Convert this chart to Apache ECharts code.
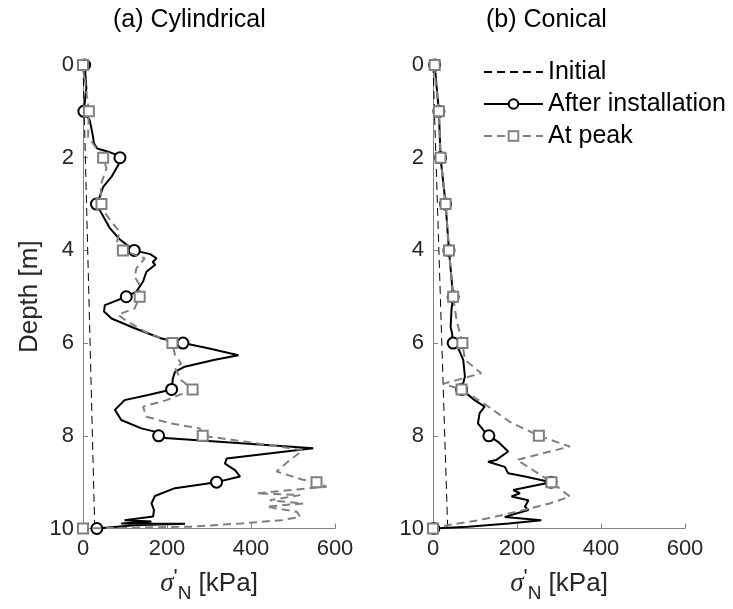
<!DOCTYPE html>
<html><head><meta charset="utf-8">
<script src="https://cdn.jsdelivr.net/npm/echarts@6/dist/echarts.min.js"></script>
<style>html,body{margin:0;padding:0;background:#fff}#c{width:733px;height:609px}</style>
</head><body><div id="c"></div>
<script>
// ---- data (depth [m], stress [kPa]) ----
const depthTicks = [0, 2, 4, 6, 8, 10];
const stressTicks = [0, 200, 400, 600];
const panelTitles = ['(a) Cylindrical', '(b) Conical'];
const seriesNames = ['Initial', 'After installation', 'At peak'];
const markerDepths = [0, 1, 2, 3, 4, 5, 6, 7, 8, 9, 10];

// (a) Cylindrical
const cylInitial = [[0, 0], [10, 28]];
const cylInstall = [[0,4],[0.5,8],[1,2],[1.19,16],[1.55,24],[1.69,26],[1.8,34],[1.87,60],[1.94,80],[2,88],[2.16,84],[2.41,68],[2.63,48],[2.84,40],[3,32],[3.2,44],[3.52,64],[3.76,87],[4,122],[4.08,160],[4.17,175],[4.25,166],[4.31,172],[4.46,151],[4.67,143],[4.89,127],[5,103],[5.18,52],[5.32,50],[5.47,68],[5.68,123],[5.9,187],[6,238],[6.11,298],[6.26,370],[6.36,314],[6.51,242],[6.62,219],[6.76,214],[7,211],[7.12,155],[7.23,99],[7.44,76],[7.66,91],[7.84,139],[7.91,171],[8,180],[8.05,195],[8.27,548],[8.49,342],[8.6,338],[8.74,362],[8.88,374],[9,318],[9.13,219],[9.3,171],[9.46,163],[9.6,169],[9.74,167],[9.82,99],[9.85,163],[9.89,91],[9.9,243],[9.93,123],[10,32]];
const cylInstallMarks = [4, 2, 88, 32, 122, 103, 238, 211, 180, 318, 33];
const cylPeak = [[0,0],[1,14],[1.55,12],[2,48],[2.23,56],[2.59,42],[3,44],[3.24,56],[3.6,87],[3.85,80],[4,95],[4.17,147],[4.39,127],[4.57,123],[4.75,135],[5,135],[5.25,123],[5.39,83],[5.54,107],[5.75,147],[5.84,171],[6,213],[6.26,219],[6.44,234],[6.54,219],[6.8,234],[7,261],[7.23,199],[7.37,143],[7.59,151],[7.73,207],[7.84,278],[8,285],[8.09,358],[8.31,524],[8.52,493],[8.77,461],[8.95,524],[9,556],[9.1,580],[9.24,413],[9.28,517],[9.39,445],[9.46,524],[9.53,437],[9.64,509],[9.75,517],[9.82,473],[9.89,378],[9.96,258],[10,0]];
const cylPeakMarks = [0, 14, 48, 44, 95, 135, 213, 261, 285, 556, 0];

// (b) Conical
const conInitial = [[0, 0], [10, 35]];
const conInstall = [[0,4],[1,14],[2,18],[3,30],[4,38],[5,48],[5.28,44],[5.65,42],[5.82,46],[6,44],[6.11,60],[6.36,72],[6.72,76],[7,68],[7.23,99],[7.37,123],[7.51,111],[7.73,107],[7.91,123],[8,133],[8.13,155],[8.34,179],[8.52,151],[8.56,131],[8.67,171],[8.81,179],[8.88,219],[9,281],[9.17,191],[9.24,207],[9.31,187],[9.39,227],[9.53,219],[9.6,227],[9.75,171],[9.82,258],[9.89,181],[9.96,83],[10,2]];
const conInstallMarks = [4, 14, 18, 30, 38, 48, 48, 68, 133, 281, 2];
const conPeak = [[0,2],[1,14],[2,18],[3,30],[4,38],[5,48],[5.5,56],[6,70],[6.36,76],[6.65,115],[6.88,24],[7,68],[7.34,127],[7.7,183],[8,252],[8.23,326],[8.52,200],[8.81,250],[9,282],[9.31,326],[9.46,278],[9.64,199],[9.82,111],[9.92,40],[10,0]];
const conPeakMarks = [4, 14, 18, 30, 38, 48, 70, 68, 252, 282, 0];

// ---- chart ----
const FONT = 'Liberation Sans, Arial, sans-serif';
const AXC = '#808080';
const TXT = '#262626';
const toXY = arr => arr.map(p => [p[1], p[0]]);
const marks = vals => vals.map((v, i) => [v, markerDepths[i]]);

const grids = [
  { left: 83, top: 65, width: 252, height: 463.5 },
  { left: 433, top: 65, width: 252, height: 463.5 }
];
const xName = '{s|σ}{p|\'}{n|N}{t| [kPa]}';
const xAxes = [0, 1].map(i => ({
  type: 'value', gridIndex: i, position: 'bottom',
  min: stressTicks[0], max: stressTicks[stressTicks.length - 1],
  interval: stressTicks[1] - stressTicks[0],
  axisLine: { show: true, onZero: false, lineStyle: { color: AXC, width: 1 } },
  axisTick: { show: true, inside: true, length: 5, lineStyle: { color: AXC } },
  axisLabel: { color: TXT, fontSize: 22, fontFamily: FONT, margin: 9 },
  splitLine: { show: false },
  name: xName, nameLocation: 'middle', nameGap: 36,
  nameTextStyle: {
    color: TXT, fontFamily: FONT,
    rich: {
      s: { fontFamily: 'Liberation Serif', fontStyle: 'italic', fontSize: 27, color: TXT, lineHeight: 30 },
      p: { fontFamily: FONT, fontSize: 22, color: TXT, lineHeight: 30, padding: [0, 0, 12, 0] },
      n: { fontFamily: FONT, fontSize: 19, color: TXT, lineHeight: 30, padding: [20, 0, 0, 0] },
      t: { fontFamily: FONT, fontSize: 26, color: TXT, lineHeight: 30 }
    }
  }
}));
const yAxes = [0, 1].map(i => ({
  type: 'value', gridIndex: i, inverse: true, position: 'left',
  min: depthTicks[0], max: depthTicks[depthTicks.length - 1],
  interval: depthTicks[1] - depthTicks[0],
  axisLine: { show: true, onZero: false, lineStyle: { color: AXC, width: 1 } },
  axisTick: { show: true, inside: true, length: 5, lineStyle: { color: AXC } },
  axisLabel: { color: TXT, fontSize: 22, fontFamily: FONT, margin: 9 },
  splitLine: { show: false },
  name: i === 0 ? 'Depth [m]' : '', nameLocation: 'middle', nameGap: 40,
  nameTextStyle: { color: TXT, fontSize: 26, fontFamily: FONT }
}));

function panelSeries(i, initial, install, installMarks, peak, peakMarks) {
  return [
    { name: seriesNames[0], type: 'line', xAxisIndex: i, yAxisIndex: i, data: toXY(initial),
      symbol: 'none', lineStyle: { color: '#000', width: 1, type: [8, 5] },
      itemStyle: { color: 'rgba(0,0,0,0)', borderWidth: 0 },
      silent: true, animation: false, z: 2 },
    { name: seriesNames[1], type: 'line', xAxisIndex: i, yAxisIndex: i, data: toXY(install),
      symbol: 'circle', symbolSize: 10, showSymbol: false,
      lineStyle: { color: '#000', width: 2 },
      itemStyle: { color: '#fff', borderColor: '#000', borderWidth: 2 },
      silent: true, animation: false, z: 3 },
    { name: seriesNames[1], type: 'scatter', xAxisIndex: i, yAxisIndex: i, data: marks(installMarks),
      symbol: 'circle', symbolSize: 11,
      itemStyle: { color: '#fff', borderColor: '#000', borderWidth: 2, opacity: 1 },
      silent: true, animation: false, z: 4 },
    { name: seriesNames[2], type: 'line', xAxisIndex: i, yAxisIndex: i, data: toXY(peak),
      symbol: 'rect', symbolSize: 10, showSymbol: false,
      lineStyle: { color: '#808080', width: 2, type: [8, 5] },
      itemStyle: { color: '#fff', borderColor: '#808080', borderWidth: 2 },
      silent: true, animation: false, z: 5 },
    { name: seriesNames[2], type: 'scatter', xAxisIndex: i, yAxisIndex: i, data: marks(peakMarks),
      symbol: 'rect', symbolSize: 10,
      itemStyle: { color: '#fff', borderColor: '#808080', borderWidth: 2, opacity: 1 },
      silent: true, animation: false, z: 6 }
  ];
}

const chart = echarts.init(document.getElementById('c'), null, { renderer: 'canvas' });
chart.setOption({
  backgroundColor: '#fff',
  animation: false,
  textStyle: { fontFamily: FONT },
  grid: grids,
  xAxis: xAxes,
  yAxis: yAxes,
  legend: {
    orient: 'vertical', left: 483, top: 59, padding: 0,
    itemWidth: 59, itemHeight: 12, itemGap: 6,
    data: seriesNames,
    textStyle: { color: '#000', fontSize: 25, fontFamily: FONT, lineHeight: 26 },
    selectedMode: false
  },
  graphic: [
    { type: 'text', left: 113, top: 8, style: { text: panelTitles[0], fill: '#000', font: '25px ' + FONT } },
    { type: 'text', left: 486, top: 8, style: { text: panelTitles[1], fill: '#000', font: '25px ' + FONT } }
  ],
  series: [].concat(
    panelSeries(0, cylInitial, cylInstall, cylInstallMarks, cylPeak, cylPeakMarks),
    panelSeries(1, conInitial, conInstall, conInstallMarks, conPeak, conPeakMarks)
  )
});
</script>
</body></html>
